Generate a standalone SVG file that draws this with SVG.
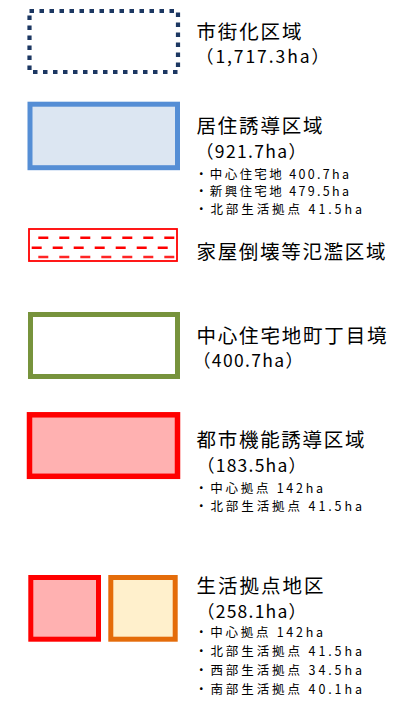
<svg xmlns="http://www.w3.org/2000/svg" width="397" height="707" viewBox="0 0 397 707">
<style>
text{font-family:"Noto Sans CJK JP","Noto Sans",sans-serif;fill:#000}
.t{font-size:19.5px}
.s{font-size:17.5px}
.b{font-size:12.5px}
.sw{stroke-width:5}
.dash{stroke:#ff0000;stroke-width:2.4;stroke-dasharray:10 11;fill:none}
</style>
<rect width="397" height="707" fill="#fff"/>
<g id="shigaika">
<rect x="29.5" y="11" width="148.5" height="61" fill="#fff" stroke="#1c3762" stroke-width="4.2" stroke-dasharray="4.5 5.5"/>
<text class="t" x="196.5" y="38.5" textLength="105" lengthAdjust="spacing">市街化区域</text>
<text class="s" x="196" y="62.5" textLength="133" lengthAdjust="spacing">（1,717.3ha）</text>
</g>
<g id="kyoju">
<rect x="30" y="104.2" width="147.5" height="63.5" fill="#dce6f2" stroke="#558ed5" class="sw"/>
<text class="t" x="196.5" y="132.5" textLength="126" lengthAdjust="spacing">居住誘導区域</text>
<text class="s" x="196" y="157.5" textLength="110" lengthAdjust="spacing">（921.7ha）</text>
<text class="b" x="195" y="178.5" textLength="154" lengthAdjust="spacing">・中心住宅地 400.7ha</text>
<text class="b" x="195" y="196" textLength="154" lengthAdjust="spacing">・新興住宅地 479.5ha</text>
<text class="b" x="195" y="213.5" textLength="167" lengthAdjust="spacing">・北部生活拠点 41.5ha</text>
</g>
<g id="kaoku">
<rect x="29" y="229" width="148" height="32" fill="#fff" stroke="#ff0000" stroke-width="1.8"/>
<line class="dash" x1="38.3" y1="237.7" x2="176" y2="237.7"/>
<line class="dash" x1="30" y1="247.7" x2="176" y2="247.7" stroke-dashoffset="-1.7"/>
<line class="dash" x1="38.3" y1="257" x2="176" y2="257" stroke-opacity="0.85"/>
<text class="t" x="196.5" y="258.5" textLength="189" lengthAdjust="spacing">家屋倒壊等氾濫区域</text>
</g>
<g id="chuushin">
<rect x="30.5" y="314.5" width="147" height="62" fill="#fff" stroke="#77933c" class="sw"/>
<text class="t" x="196.5" y="342.5" textLength="190" lengthAdjust="spacing">中心住宅地町丁目境</text>
<text class="s" x="193" y="366.5" textLength="110" lengthAdjust="spacing">（400.7ha）</text>
</g>
<g id="toshikino">
<rect x="29.5" y="414.8" width="148" height="61.5" fill="#ffb1b1" stroke="#ff0000" stroke-width="5.5"/>
<text class="t" x="196.5" y="446.5" textLength="168" lengthAdjust="spacing">都市機能誘導区域</text>
<text class="s" x="197" y="471.5" textLength="109" lengthAdjust="spacing">（183.5ha）</text>
<text class="b" x="195" y="492.5" textLength="128" lengthAdjust="spacing">・中心拠点 142ha</text>
<text class="b" x="195" y="510.5" textLength="167" lengthAdjust="spacing">・北部生活拠点 41.5ha</text>
</g>
<g id="seikatsu">
<rect x="30.8" y="577.5" width="67.7" height="61.7" fill="#ffb1b1" stroke="#ff0000" class="sw"/>
<rect x="110.8" y="577.5" width="64.4" height="61.7" fill="#fff0cc" stroke="#e46c0a" class="sw"/>
<text class="t" x="196.5" y="592.5" textLength="127" lengthAdjust="spacing">生活拠点地区</text>
<text class="s" x="197" y="617.5" textLength="109" lengthAdjust="spacing">（258.1ha）</text>
<text class="b" x="195" y="636.5" textLength="128" lengthAdjust="spacing">・中心拠点 142ha</text>
<text class="b" x="195" y="656" textLength="167" lengthAdjust="spacing">・北部生活拠点 41.5ha</text>
<text class="b" x="195" y="675" textLength="167" lengthAdjust="spacing">・西部生活拠点 34.5ha</text>
<text class="b" x="195" y="693.5" textLength="167" lengthAdjust="spacing">・南部生活拠点 40.1ha</text>
</g>
<g id="connectors"></g>
</svg>
